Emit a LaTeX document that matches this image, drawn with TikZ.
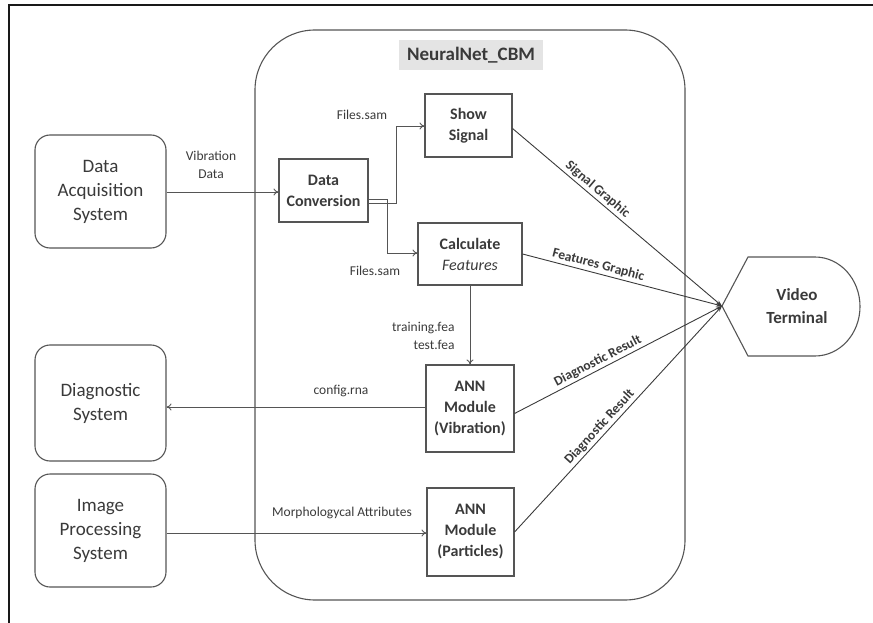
\documentclass[tikz,border=0pt]{standalone}
\usepackage{fontspec}
\setmainfont{Carlito}
\usetikzlibrary{arrows.meta}
\definecolor{ink}{HTML}{3A3A3A}
\definecolor{edge}{HTML}{555555}
\definecolor{titlebg}{HTML}{E4E4E4}
\begin{document}
\begin{tikzpicture}[x=1pt,y=-1pt,
  outer/.style={draw=edge,line width=1.1pt,rounded corners=15pt,minimum width=131pt,align=center,
    font=\fontsize{19}{24}\selectfont,text=ink},
  inner/.style={draw=edge,line width=1.1pt,align=center,font=\bfseries\fontsize{16}{21}\selectfont,text=ink},
  lbl/.style={font=\fontsize{13.5}{18}\selectfont,text=ink,align=center},
  dlbl/.style={font=\bfseries\fontsize{13.5}{16}\selectfont,text=ink,sloped,inner sep=2pt},
  arr/.style={draw=edge,line width=0.9pt,-{To[length=5pt,width=7pt]}},
  conv/.style={draw=ink,line width=0.9pt,-{Stealth[length=6pt,width=4pt]}}]
\useasboundingbox (0,0) rectangle (873,623);
% page frame
\draw[line width=2.2pt,black!90] (9,623) -- (9,5) -- (873,5);
% container
\draw[draw=edge,line width=1.1pt,rounded corners=60pt] (255,30) rectangle (685,600);
\node[fill=titlebg,font=\bfseries\fontsize{19}{22}\selectfont,text=ink,minimum width=144pt,minimum height=30pt]
  (title) at (471,55) {NeuralNet\_CBM};
% external systems
\node[outer,minimum height=113pt] (das) at (100.5,191.5) {Data\\Acquisition\\System};
\node[outer,minimum height=116pt] (ds) at (100.5,403) {Diagnostic\\System};
\node[outer,minimum height=113pt] (ips) at (100.5,530.5) {Image\\Processing\\System};
% internal modules
\node[inner,minimum width=89pt,minimum height=63pt] (dc) at (323.5,190.5) {Data\\Conversion};
\node[inner,minimum width=87pt,minimum height=63pt] (ss) at (468.5,125.5) {Show\\Signal};
\node[inner,minimum width=104pt,minimum height=62pt] (cf) at (470,254) {Calculate\\\textmd{\itshape Features}};
\node[inner,minimum width=88pt,minimum height=87pt] (annv) at (470,408.5) {ANN\\Module\\(Vibration)};
\node[inner,minimum width=87pt,minimum height=88pt] (annp) at (470.5,532) {ANN\\Module\\(Particles)};
% video terminal
\draw[draw=edge,line width=1.1pt] (722,306) -- (748,257) -- (815,257)
  arc[start angle=90,end angle=-90,x radius=45pt,y radius=49.5pt] -- (748,356) -- cycle;
\coordinate (vt) at (722,306);
\node[font=\bfseries\fontsize{17}{23}\selectfont,text=ink,align=center] (vtext) at (797,306) {Video\\Terminal};
% data flows
\draw[arr] (das.east |- 0,192) -- (dc.west |- 0,192);
\node[lbl] (vd) at (211,165) {Vibration\\Data};
\draw[arr] ([yshift=-12.5pt]dc.east) -- ++(28,0) |- (ss.west |- 0,126);
\node[lbl] (fs1) at (362,115) {Files.sam};
\draw[arr] ([yshift=-8.5pt]dc.east) -- ++(19,0) |- (cf.west |- 0,253);
\node[lbl] (fs2) at (375,271) {Files.sam};
\draw[arr] (cf.south) -- (annv.north);
\node[lbl,align=right,anchor=east] (fea) at (458,336) {training.fea\\test.fea};
\draw[arr] (annv.west |- 0,407) -- (ds.east |- 0,407);
\node[lbl] (cfg) at (341,391) {config.rna};
\draw[arr] (ips.east |- 0,533) -- (annp.west |- 0,533);
\node[lbl] (morph) at (342,513) {Morphologycal Attributes};
% outputs to the terminal
\draw[conv] ([yshift=-3pt]ss.east) -- node[dlbl,above,pos=0.38] {Signal Graphic} (vt);
\draw[conv] (cf.east) -- node[dlbl,above,pos=0.37] {Features Graphic} (vt);
\draw[conv] ([yshift=-5pt]annv.east) -- node[dlbl,above,pos=0.42] {Diagnostic Result} (vt);
\draw[conv] (annp.east) -- node[dlbl,above,pos=0.44] {Diagnostic Result} (vt);
\end{tikzpicture}
\end{document}
